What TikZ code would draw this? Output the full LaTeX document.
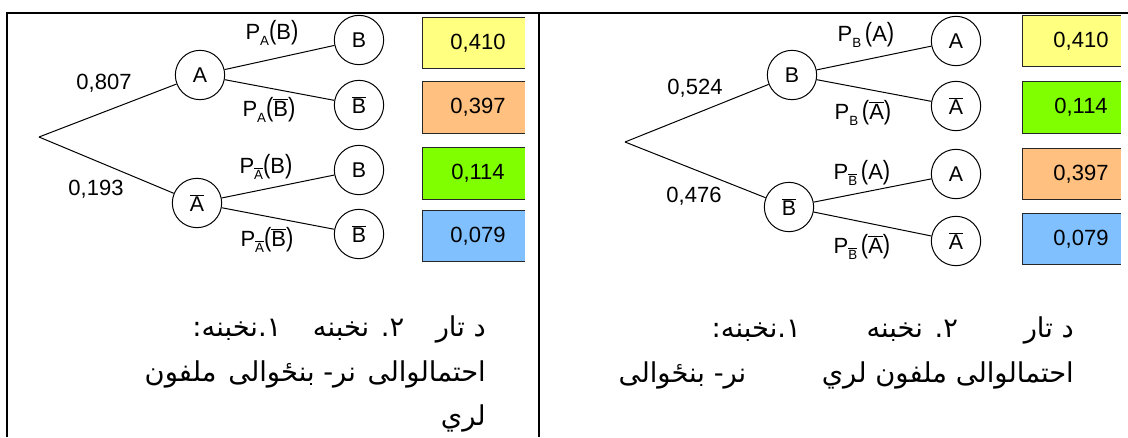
\documentclass[tikz,border=0pt]{standalone}
\usepackage{fontspec}
\usepackage{graphicx}
\setmainfont{Liberation Sans}
\newfontfamily\arabicfont[Script=Arabic]{DejaVu Sans}
\TeXXeTstate=1
\definecolor{cyel}{RGB}{255,255,128}
\definecolor{corg}{RGB}{255,192,128}
\definecolor{cgrn}{RGB}{128,255,0}
\definecolor{cblu}{RGB}{128,192,255}
\newcommand{\ovl}[1]{$\overline{\hbox{#1}}$}
\newcommand{\sbs}[1]{\raisebox{-0.5ex}{\fontsize{10}{10}\selectfont #1}}
\newcommand{\bp}[1]{\scalebox{1}[1.2]{(}#1\scalebox{1}[1.2]{)}}
\begin{document}
\begin{tikzpicture}[x=0.75pt,y=-0.75pt,
  ev/.style={circle,draw,line width=0.75pt,minimum size=37pt,inner sep=0pt,font=\fontsize{16}{18}\selectfont},
  lbl/.style={inner sep=0pt,font=\fontsize{16.5}{18}\selectfont},
  br/.style={line width=0.75pt},
  probbox/.style={fill=#1,minimum width=76.5pt,minimum height=38pt,inner sep=0pt},
  boxedge/.style={line width=0.75pt,draw=black!85},
  frame/.style={line width=1.6pt},
  ar/.style={inner sep=0pt,font=\arabicfont\fontsize{20.5}{24}\selectfont}]
\useasboundingbox (0,0) rectangle (1128,437);
% frame
\coordinate (f1) at (7,437); \coordinate (f2) at (7,13); \coordinate (f3) at (1128,13);
\coordinate (m1) at (539,13); \coordinate (m2) at (539,437);
\draw[frame] (f1) -- (f2) -- (f3);
\draw[frame] (m1) -- (m2);
% ---------- left tree
\coordinate (R1) at (39,137);
\node[ev] (A1) at (200,75) {A};
\node[ev] (N1) at (197,203) {\ovl{A}};
\node[ev] (L1) at (359,40) {B};
\node[ev] (L2) at (359,105) {\ovl{B}};
\node[ev] (L3) at (359,170) {B};
\node[ev] (L4) at (359,234) {\ovl{B}};
\draw[br] (R1) -- (A1);
\draw[br] (R1) -- (N1);
\draw[br] (A1) -- (L1);
\draw[br] (A1) -- (L2);
\draw[br] (N1) -- (L3);
\draw[br] (N1) -- (L4);
\node[lbl] (p1) at (104,83) {0,807};
\node[lbl] (p2) at (96,189) {0,193};
\node[lbl] (q1) at (272,33) {P\sbs{A}\bp{B}};
\node[lbl] (q2) at (269,110) {P\sbs{A}\bp{\ovl{B}}};
\node[lbl] (q3) at (266,167) {P\sbs{\ovl{A}}\bp{B}};
\node[lbl] (q4) at (267,240) {P\sbs{\ovl{A}}\bp{\ovl{B}}};
\node[probbox=cyel] (b1) at (474,43) {};
\node[probbox=corg] (b2) at (474,107.5) {};
\node[probbox=cgrn] (b3) at (474,173.5) {};
\node[probbox=cblu] (b4) at (474,236) {};
\foreach \b in {b1,b2,b3,b4}{\draw[boxedge] (\b.north east) -- (\b.north west) -- (\b.south west) -- (\b.south east);}
\node[lbl] (t1) at (478,43) {0,410};
\node[lbl] (t2) at (478,107.5) {0,397};
\node[lbl] (t3) at (478,173.5) {0,114};
\node[lbl] (t4) at (478,236) {0,079};
% ---------- right tree
\coordinate (R2) at (625,142);
\node[ev] (B2) at (792,75) {B};
\node[ev] (M2) at (789,207) {\ovl{B}};
\node[ev] (K1) at (956,41) {A};
\node[ev] (K2) at (956,106) {\ovl{A}};
\node[ev] (K3) at (956,174) {A};
\node[ev] (K4) at (956,241) {\ovl{A}};
\draw[br] (R2) -- (B2);
\draw[br] (R2) -- (M2);
\draw[br] (B2) -- (K1);
\draw[br] (B2) -- (K2);
\draw[br] (M2) -- (K3);
\draw[br] (M2) -- (K4);
\node[lbl] (s1) at (695,88) {0,524};
\node[lbl] (s2) at (694,196) {0,476};
\node[lbl] (r1) at (866,35) {P\sbs{B}\,\bp{A}};
\node[lbl] (r2) at (863,113) {P\sbs{B}\,\bp{\ovl{A}}};
\node[lbl] (r3) at (862,173) {P\sbs{\ovl{B}}\,\bp{A}};
\node[lbl] (r4) at (862,247) {P\sbs{\ovl{B}}\,\bp{\ovl{A}}};
\node[probbox=cyel,minimum width=73.5pt] (c1) at (1072,41) {};
\node[probbox=cgrn,minimum width=73.5pt] (c2) at (1072,107.5) {};
\node[probbox=corg,minimum width=73.5pt] (c3) at (1072,174) {};
\node[probbox=cblu,minimum width=73.5pt] (c4) at (1072,239) {};
\foreach \b in {c1,c2,c3,c4}{\draw[boxedge] (\b.north east) -- (\b.north west) -- (\b.south west) -- (\b.south east);}
\node[lbl] (u1) at (1081,41) {0,410};
\node[lbl] (u2) at (1081,107.5) {0,114};
\node[lbl] (u3) at (1081,174) {0,397};
\node[lbl] (u4) at (1081,239) {0,079};
% ---------- captions
\node[ar,anchor=base east] (la1) at (486,336) {\hbox to 220pt{\beginR د تار\hfill ٢. نخبنه\hfill ١.نخبنه:\endR}};
\node[ar,anchor=base east] (la2) at (486,381) {\hbox to 255.75pt{\beginR احتمالوالی\hfill نر- بنځوالی\hfill ملفون\endR}};
\node[ar,anchor=base east] (la3) at (486,425) {\beginR لري\endR};
\node[ar,anchor=base east] (ra1) at (1074,337) {\hbox to 271.5pt{\beginR د تار\hfill ٢. نخبنه\hfill ١.نخبنه:\endR}};
\node[ar,anchor=base east] (ra2) at (1074,382) {\hbox to 341.25pt{\beginR احتمالوالی ملفون لري\hfill نر- بنځوالی\endR}};
\end{tikzpicture}
\end{document}
